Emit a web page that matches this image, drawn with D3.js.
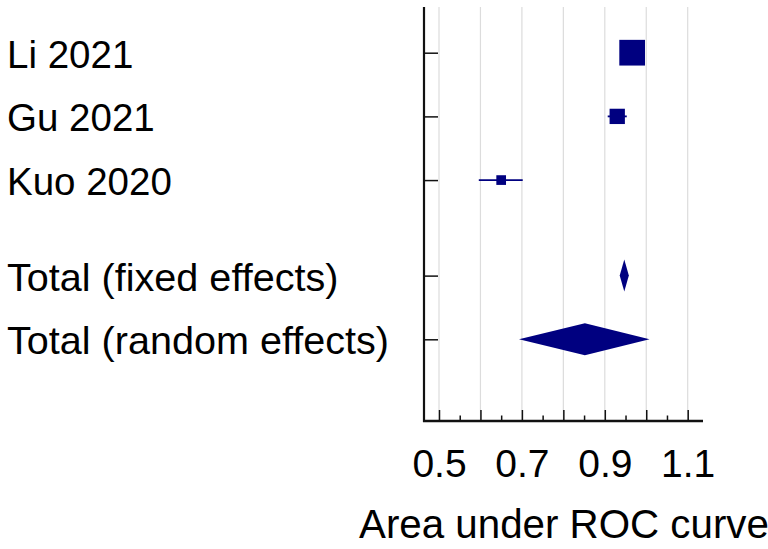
<!DOCTYPE html>
<html>
<head>
<meta charset="utf-8">
<script src="https://cdn.jsdelivr.net/npm/d3@7"></script>
<style>
  html, body { margin: 0; padding: 0; background: #fff; }
  svg { display: block; font-family: "Liberation Sans", Arial, sans-serif; }
</style>
</head>
<body>
<script>
// study rows
const studies = ['Li 2021', 'Gu 2021', 'Kuo 2020'];
const studyAuc = [0.966, 0.930, 0.650];
const studyLower = [0.952, 0.907, 0.596];
const studyUpper = [0.980, 0.953, 0.702];
const studyWeight = [66.8, 23.7, 9.5];

// pooled rows
const totals = ['Total (fixed effects)', 'Total (random effects)'];
const totalAuc = [0.947, 0.852];
const totalLower = [0.936, 0.693];
const totalUpper = [0.958, 1.008];

// x axis
const majorTicks = [0.5, 0.6, 0.7, 0.8, 0.9, 1.0, 1.1];
const minorTicks = [0.55, 0.65, 0.75, 0.85, 0.95, 1.05];
const tickLabels = [0.5, 0.7, 0.9, 1.1];
const xTitle = 'Area under ROC curve';

const width = 768, height = 549;
const navy = '#000080';
const plotTop = 7, plotBottom = 421, plotLeft = 424, plotRight = 703;

const svg = d3.select('body').append('svg')
  .attr('width', width)
  .attr('height', height);

const x = d3.scaleLinear().domain([0.5, 1.1]).range([439, 687.7]);

// row positions: a half-row gap between studies and pooled estimates
const rows = studies.map((s, i) => ({ name: s, pos: i + 1, total: false }))
  .concat(totals.map((s, j) => ({ name: s, pos: studies.length + 1.5 + j, total: true })));
const y = d3.scaleLinear().domain([1, 5.5]).range([52.7, 339.3]);

// gridlines
svg.append('g')
  .selectAll('line')
  .data(majorTicks)
  .join('line')
  .attr('x1', d => x(d)).attr('x2', d => x(d))
  .attr('y1', plotTop).attr('y2', plotBottom)
  .style('stroke', '#dcdcdc')
  .style('stroke-width', '1.2px');

// x axis: major + minor ticks pointing up
const fmt = d3.format('.1f');
const xMajor = svg.append('g')
  .attr('transform', `translate(0,${plotBottom})`)
  .call(d3.axisBottom(x)
    .tickValues(majorTicks)
    .tickSizeInner(-11)
    .tickSizeOuter(0)
    .tickPadding(28)
    .tickFormat(d => tickLabels.some(t => Math.abs(t - d) < 1e-9) ? fmt(d) : ''));
xMajor.select('.domain').remove();
xMajor.selectAll('line').style('stroke', '#111').style('stroke-width', '1.5px');
xMajor.selectAll('text')
  .style('font-family', '"Liberation Sans", Arial, sans-serif')
  .style('font-size', '39px')
  .style('fill', '#000');

const xMinor = svg.append('g')
  .attr('transform', `translate(0,${plotBottom})`)
  .call(d3.axisBottom(x)
    .tickValues(minorTicks)
    .tickSizeInner(-5.5)
    .tickSizeOuter(0)
    .tickFormat(''));
xMinor.select('.domain').remove();
xMinor.selectAll('line').style('stroke', '#111').style('stroke-width', '1.5px');

// y axis with ticks pointing right
const yAxis = svg.append('g')
  .attr('transform', `translate(${plotLeft},0)`)
  .call(d3.axisRight(y)
    .tickValues(rows.map(r => r.pos))
    .tickSize(14)
    .tickFormat(''));
yAxis.select('.domain').remove();
yAxis.selectAll('line').style('stroke', '#111').style('stroke-width', '1.5px');

// axis lines
svg.append('line')
  .attr('x1', plotLeft).attr('x2', plotLeft)
  .attr('y1', plotTop).attr('y2', plotBottom + 1)
  .style('stroke', '#111').style('stroke-width', '2.2px');
svg.append('line')
  .attr('x1', plotLeft - 1).attr('x2', plotRight)
  .attr('y1', plotBottom).attr('y2', plotBottom)
  .style('stroke', '#111').style('stroke-width', '2.5px');

// row labels
svg.append('g')
  .selectAll('text')
  .data(rows)
  .join('text')
  .attr('x', 7)
  .attr('y', d => y(d.pos) + 15)
  .style('font-size', d => d.total ? '39.6px' : '38.5px')
  .style('fill', '#000')
  .text(d => d.name);

// study CIs and squares
const size = d3.scaleSqrt().domain([0, d3.max(studyWeight)]).range([0, 25.7]);
const studyG = svg.append('g');
studyG.selectAll('line')
  .data(studies)
  .join('line')
  .attr('x1', (d, i) => x(studyLower[i]))
  .attr('x2', (d, i) => x(studyUpper[i]))
  .attr('y1', (d, i) => y(i + 1))
  .attr('y2', (d, i) => y(i + 1))
  .style('stroke', navy)
  .style('stroke-width', '1.8px');
studyG.selectAll('rect')
  .data(studies)
  .join('rect')
  .attr('x', (d, i) => x(studyAuc[i]) - size(studyWeight[i]) / 2)
  .attr('y', (d, i) => y(i + 1) - size(studyWeight[i]) / 2)
  .attr('width', (d, i) => size(studyWeight[i]))
  .attr('height', (d, i) => size(studyWeight[i]))
  .style('fill', navy);

// pooled diamonds
const halfH = 16;
svg.append('g')
  .selectAll('polygon')
  .data(totals)
  .join('polygon')
  .attr('points', (d, j) => {
    const yy = y(studies.length + 1.5 + j);
    return [
      [x(totalLower[j]), yy],
      [x(totalAuc[j]), yy - halfH],
      [x(totalUpper[j]), yy],
      [x(totalAuc[j]), yy + halfH]
    ].map(p => p.join(',')).join(' ');
  })
  .style('fill', navy);

// x title, runs to the right edge like the reference
svg.append('text')
  .attr('x', 359)
  .attr('y', 538)
  .style('font-size', '40.3px')
  .style('fill', '#000')
  .text(xTitle);
</script>
</body>
</html>
